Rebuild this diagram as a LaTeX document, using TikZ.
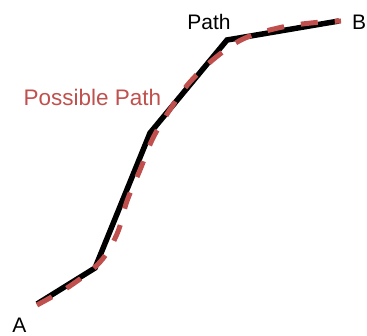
\documentclass[tikz,border=0pt]{standalone}
\usepackage{fontspec}
\setmainfont{Liberation Sans}
\definecolor{pathred}{RGB}{192,80,77}
\begin{document}
\begin{tikzpicture}[x=1pt, y=-1pt, font=\fontsize{21}{25}\selectfont]
\useasboundingbox (0,0) rectangle (367,336);
\coordinate (A) at (37,304);
\coordinate (C) at (95,268);
\coordinate (D) at (150,133);
\coordinate (E) at (227,40);
\coordinate (B) at (339,21);
\draw[line width=5.5pt] (A) -- (C) -- (D) -- (E) -- (B); % path
\draw[pathred, line width=5pt, dash pattern=on 17pt off 17pt] plot[smooth, tension=0.6] coordinates {(37,305) (70,286) (100,262) (117,234) (127,201) (140,170) (153,138) (171,108) (190,82) (215,58) (243,39) (278,28) (311,23) (341,21)}; % possible path
\node[anchor=base] (labA) at (19.5,333) {A};
\node[anchor=base west, inner xsep=0pt] (labB) at (352,30) {B};
\node[anchor=base] (labPath) at (209,30) {Path};
\node[anchor=base, pathred, font=\fontsize{22.5}{27}\selectfont] (labPossible) at (92.5,106) {Possible Path};
\end{tikzpicture}
\end{document}
